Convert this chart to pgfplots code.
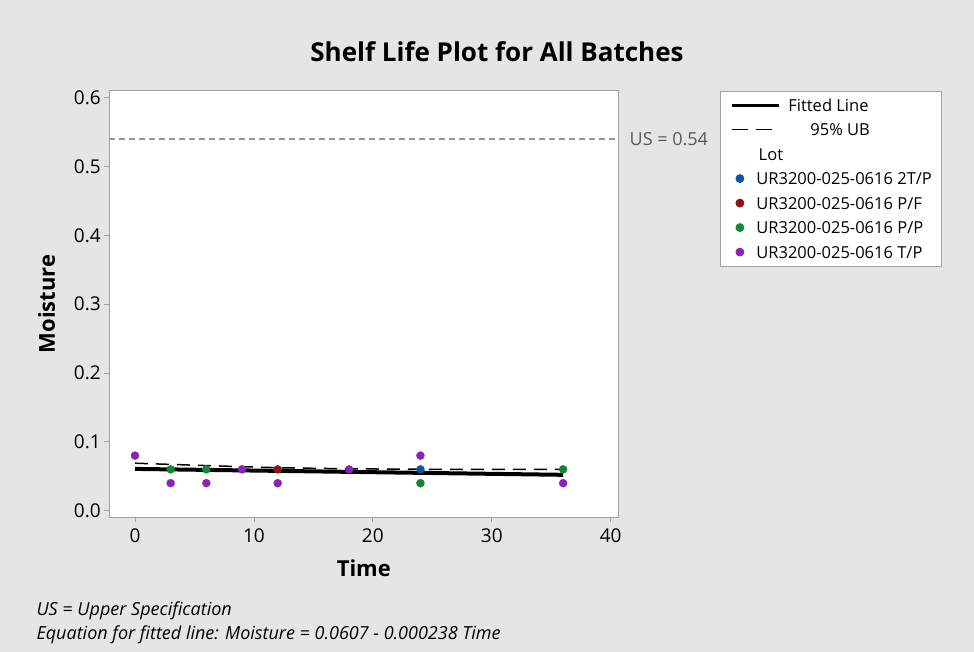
\documentclass[border=0pt]{standalone}
\usepackage{fontspec}
\setmainfont{Open Sans}
\usepackage{pgfplots}
\pgfplotsset{compat=1.18}
\pgfplotsset{
    fitleg/.style={legend image code/.code={\draw[##1,line width=3pt] (0pt,0pt) -- (47pt,0pt);}},
    ubleg/.style={legend image code/.code={\draw[##1,line width=1.8pt,dash pattern=on 16pt off 8pt] (0pt,0pt) -- (40pt,0pt);}},
    dotleg/.style={legend image code/.code={\draw[##1] plot coordinates {(8pt,0pt)};}},
}
\begin{document}
\begin{tikzpicture}
\definecolor{bgGray}{RGB}{229,229,229}
\definecolor{frameGray}{RGB}{160,160,160}
\definecolor{lotBlue}{RGB}{16,84,166}
\definecolor{lotRed}{RGB}{140,22,22}
\definecolor{lotGreen}{RGB}{20,135,55}
\definecolor{lotPurple}{RGB}{140,35,185}
\definecolor{usGray}{RGB}{150,150,150}
\fill[bgGray] (0pt,0pt) rectangle (974pt,652pt);
\useasboundingbox (0pt,0pt) rectangle (974pt,652pt);

% title and notes
\node[font=\fontsize{26}{30}\selectfont\bfseries] at (497pt,600pt) {Shelf Life Plot for All Batches};
\node[anchor=base west,font=\fontsize{18}{21}\selectfont\itshape] at (33pt,36pt) {US = Upper Specification};
\node[anchor=base west,font=\fontsize{18}{21}\selectfont\itshape] at (33pt,12pt) {Equation for fitted line: Moisture = 0.0607 - 0.000238 Time};

\begin{axis}[
    at={(109.3pt,134.7pt)}, anchor=south west,
    scale only axis,
    width=509pt, height=426.6pt,
    xmin=-2.16, xmax=40.64,
    ymin=-0.0096, ymax=0.6102,
    xtick={0,10,20,30,40},
    ytick={0,0.1,0.2,0.3,0.4,0.5,0.6},
    xtick pos=bottom, ytick pos=left,
    yticklabel style={/pgf/number format/.cd,fixed,fixed zerofill,precision=1},
    /pgf/number format/assume math mode=true,
    tick label style={font=\fontsize{19}{21}\selectfont},
    xticklabel style={yshift=-3pt},
    tick align=outside,
    major tick length=5pt,
    tick style={frameGray,line width=0.8pt},
    axis line style={frameGray,line width=0.8pt},
    axis background/.style={fill=white},
    xlabel={Time},
    ylabel={Moisture},
    label style={font=\fontsize{22}{24}\selectfont\bfseries},
    xlabel style={yshift=-10pt},
    ylabel style={yshift=12pt},
    clip=false,
    legend cell align=left,
    legend style={
        at={(1.1998,1.0)}, anchor=north west,
        draw=frameGray, line width=0.8pt, fill=white,
        font=\fontsize{16.5}{19}\selectfont,
        inner xsep=10pt, inner ysep=7pt,
        row sep=10.5pt, column sep=8pt,
        nodes={inner sep=0pt, text height=13pt, text depth=1pt},
    },
]
% upper specification
\addplot[usGray, line width=1.2pt, dash pattern=on 6pt off 4pt, forget plot]
    coordinates {(-2.16,0.54) (40.64,0.54)};
\node[anchor=west, text=black!65, font=\fontsize{18}{20}\selectfont] at (axis cs:41.3,0.54) {US = 0.54};

\addplot[black, line width=4pt, fitleg]
    coordinates {(0,0.0607) (36,0.0521)};
\addlegendentry{Fitted Line}

\addplot[black, line width=1.5pt, dash pattern=on 13pt off 8pt, ubleg]
    coordinates {(0,0.0690) (6,0.0655) (12,0.0624) (18,0.0608) (24,0.0602) (30,0.0600) (36,0.0601)};
\addlegendentry{\hspace*{22pt}95\% UB}

\addlegendimage{empty legend}
\addlegendentry{\hspace*{-36pt}Lot}

\addplot[only marks, mark=*, mark size=4pt, lotBlue, dotleg]
    coordinates {(24,0.06)};
\addlegendentry{\hspace*{-32pt}UR3200-025-0616 2T/P}

\addplot[only marks, mark=*, mark size=4pt, lotRed, dotleg]
    coordinates {(12,0.06)};
\addlegendentry{\hspace*{-32pt}UR3200-025-0616 P/F}

\addplot[only marks, mark=*, mark size=4pt, lotGreen, dotleg]
    coordinates {(3,0.06) (6,0.06) (24,0.04) (36,0.06)};
\addlegendentry{\hspace*{-32pt}UR3200-025-0616 P/P}

\addplot[only marks, mark=*, mark size=4pt, lotPurple, dotleg]
    coordinates {(0,0.08) (3,0.04) (6,0.04) (9,0.06) (12,0.04) (18,0.06) (24,0.08) (36,0.04)};
\addlegendentry{\hspace*{-32pt}UR3200-025-0616 T/P}
\end{axis}
\end{tikzpicture}
\end{document}
